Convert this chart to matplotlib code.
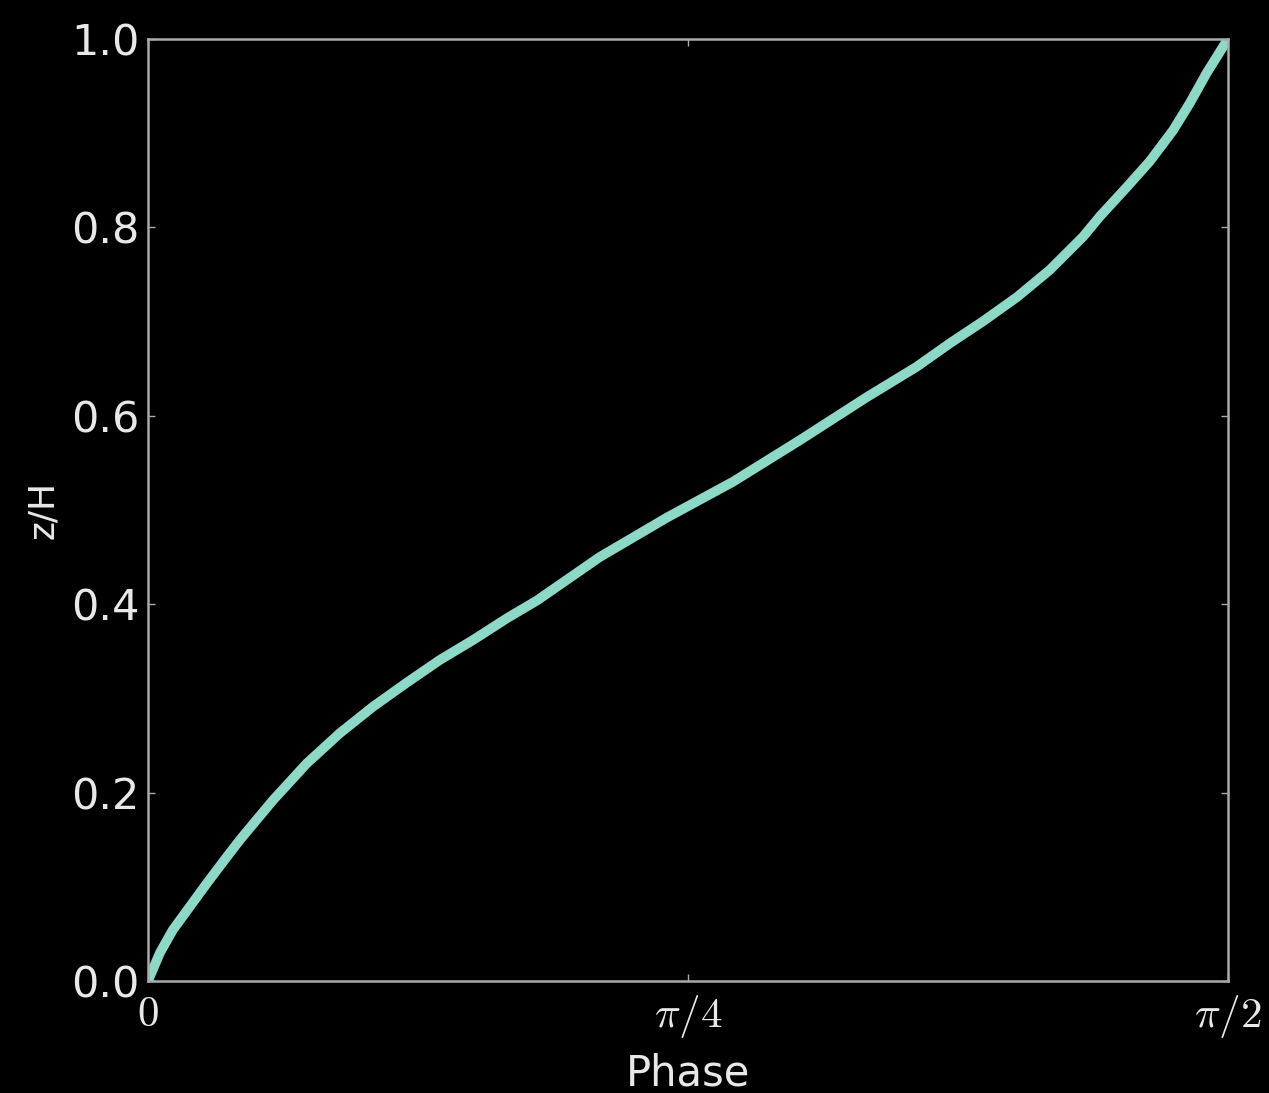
import matplotlib
matplotlib.use('Agg')
import matplotlib.pyplot as plt
import numpy as np

# phase (rad) and normalised height read along the profile
phase = [0.0, 0.0175, 0.036, 0.061, 0.086, 0.115, 0.134, 0.182, 0.231, 0.279,
         0.327, 0.377, 0.425, 0.473, 0.522, 0.566, 0.657, 0.755, 0.851, 0.948,
         1.046, 1.118, 1.1665, 1.214, 1.264, 1.312, 1.360, 1.385, 1.424,
         1.457, 1.491, 1.5155, 1.540, 1.5708]
z_h = [0.0, 0.030, 0.054, 0.079, 0.104, 0.132, 0.150, 0.192, 0.231, 0.263,
       0.291, 0.317, 0.341, 0.362, 0.385, 0.404, 0.450, 0.492, 0.530, 0.574,
       0.620, 0.652, 0.677, 0.700, 0.726, 0.755, 0.790, 0.812, 0.843,
       0.870, 0.903, 0.932, 0.964, 1.0]

x_ticks = [0, np.pi / 4, np.pi / 2]
x_labels = ['$0$', r'$\pi/4$', r'$\pi/2$']
y_ticks = [0.0, 0.2, 0.4, 0.6, 0.8, 1.0]

fg = '#e8e8e8'
plt.rcParams['mathtext.fontset'] = 'cm'

fig = plt.figure(figsize=(12.69, 10.93), dpi=100, facecolor='black')
ax = fig.add_axes([0.1166, 0.1025, 0.851, 0.8618], facecolor='black')

ax.plot(phase, z_h, color='#8dd9c8', lw=7, solid_joinstyle='round',
        solid_capstyle='butt')

ax.set_xlim(0, np.pi / 2)
ax.set_ylim(0, 1)
ax.set_xticks(x_ticks)
ax.set_xticklabels(x_labels)
ax.set_yticks(y_ticks)
ax.set_yticklabels([f'{v:.1f}' for v in y_ticks])

ax.tick_params(direction='in', length=5, width=1, color='#aaaaaa',
               top=True, right=True, labelsize=31, labelcolor=fg, pad=6)
ax.tick_params(axis='x', pad=9)
for s in ax.spines.values():
    s.set_color('#aaaaaa')
    s.set_linewidth(1.8)

ax.set_xlabel('Phase', fontsize=30, color=fg, labelpad=9)
ax.set_ylabel('z/H', fontsize=26, color=fg, labelpad=8)

fig.savefig('out.png', dpi=100, facecolor='black')
